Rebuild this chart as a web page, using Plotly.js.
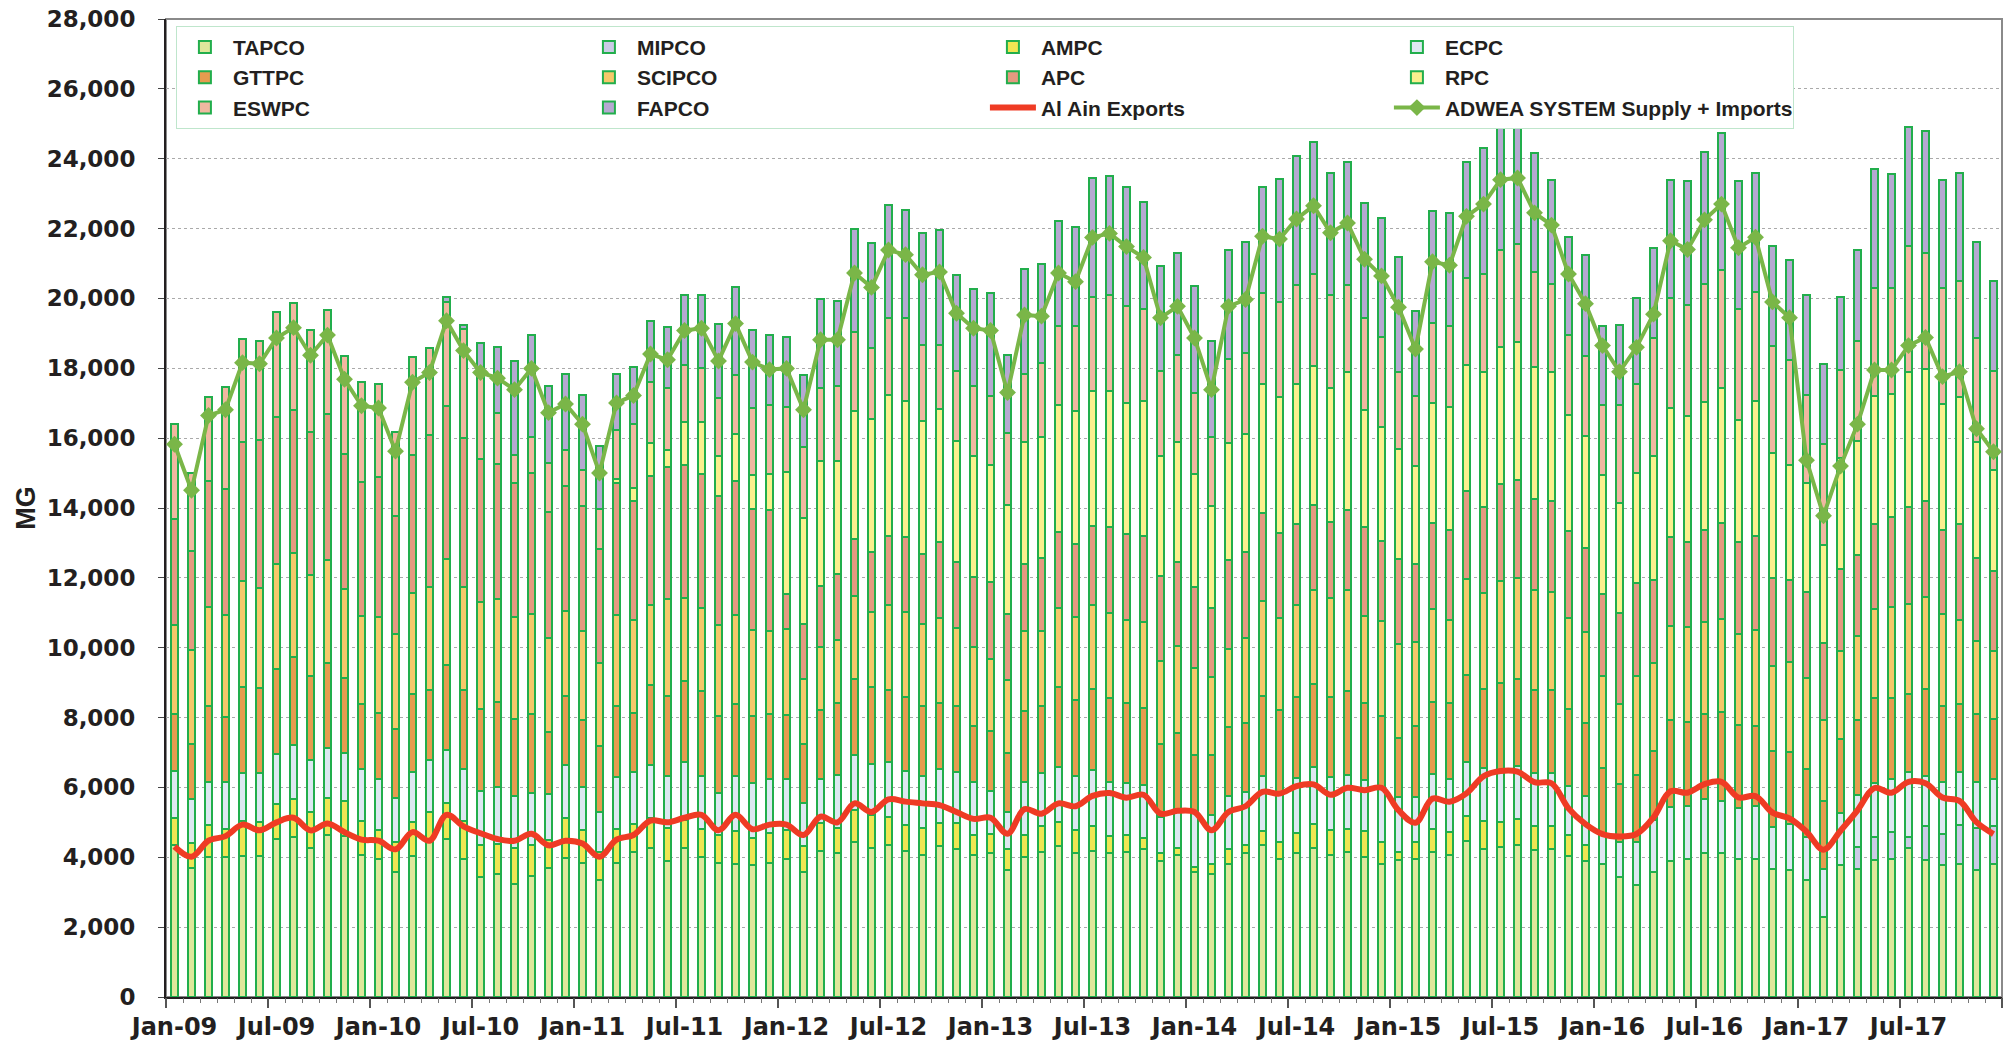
<!DOCTYPE html>
<html>
<head>
<meta charset="utf-8">
<script src="https://cdn.plot.ly/plotly-3.0.1.min.js"></script>
<style>html,body{margin:0;padding:0;background:#fff;}#chart{width:2009px;height:1044px;}</style>
</head>
<body>
<div id="chart"></div>
<script>
// ---- categories ----
const years = ['09','10','11','12','13','14','15','16','17'];
const monthNames = ['Jan','Feb','Mar','Apr','May','Jun','Jul','Aug','Sep','Oct','Nov','Dec'];
const months = [];
years.forEach(y => monthNames.forEach(m => months.push(m + '-' + y)));
const tickLabels = ['Jan-09','Jul-09','Jan-10','Jul-10','Jan-11','Jul-11','Jan-12','Jul-12','Jan-13','Jul-13','Jan-14','Jul-14','Jan-15','Jul-15','Jan-16','Jul-16','Jan-17','Jul-17'];

// ---- series values (MG), one row per year Jan..Dec ----
const TAPCO = [
 4340,3700,4010,4010,4050,4050,4520,4590,4280,4640,4610,4060,
 3950,3570,4050,4510,4510,3950,3440,3520,3240,3455,3685,3980,
 3850,3360,3850,4145,4260,3900,4280,4015,3850,3815,3770,3850,
 3950,3570,4180,4110,4440,4280,4360,4180,4060,4310,4230,4060,
 4110,3650,4015,4145,4310,4110,4180,4110,4145,4230,3900,4065,
 3570,3520,3815,4110,4345,3950,4110,4275,4065,4145,4015,3815,
 3910,3960,4160,4060,4470,4225,4300,4350,4200,4250,4050,3900,
 3800,3450,3200,3580,3890,3940,4120,4120,3945,3945,3670,3645,
 3345,2285,3780,3670,3915,3945,4255,3915,3780,3820,3645,3820];
const MIPCO = [
 0,0,0,0,0,0,0,0,0,0,0,0,
 0,0,0,0,0,0,0,0,0,0,0,0,
 0,0,0,0,0,0,0,0,0,0,0,0,
 0,0,0,0,0,0,0,0,0,0,0,0,
 0,0,0,0,0,0,0,0,0,0,0,0,
 0,0,0,0,0,0,0,0,0,0,0,0,
 0,0,0,0,0,0,0,0,0,0,0,0,
 0,0,0,0,0,0,0,0,0,0,0,0,
 0,0,0,625,680,790,340,995,885,1115,1185,1090];
const AMPC = [
 790,720,920,790,1000,950,1020,1070,1020,1070,990,990,
 820,870,950,790,1040,1100,905,870,1035,890,820,1150,
 920,790,955,820,870,940,775,790,790,940,790,840,
 820,740,790,725,905,940,805,740,775,660,740,575,
 560,575,625,740,705,660,710,495,495,330,215,215,
 165,295,410,245,410,495,575,690,705,660,740,625,
 230,490,640,670,720,815,700,750,700,650,600,450,
 0,0,0,0,0,0,0,0,0,0,0,0,
 0,0,0,0,0,0,0,0,0,0,0,0];
const ECPC = [
 1350,1235,1235,1365,1365,1415,1430,1560,1480,1430,1380,1480,
 1480,1265,1450,1480,1510,1465,1560,1630,1480,1495,1315,1520,
 1235,1150,1480,1480,1515,1480,1680,1515,1200,1565,1560,1560,
 1465,1235,1285,1530,1595,1445,1565,1560,1495,1565,1480,1515,
 1235,1070,1515,1515,1565,1545,1595,1545,1480,1515,1050,1020,
 1595,1400,1530,1515,1565,1380,1595,1610,1515,1565,1450,1515,
 1595,1280,1575,1515,1545,1525,1500,1500,1500,1500,1400,1400,
 850,1000,1250,1500,1550,1540,1560,1500,1470,1535,1200,1320,
 1250,1385,1495,1495,1525,1495,1835,1415,1495,1495,1335,1320];
const GTTPC = [
 1610,1580,2170,1840,2470,2420,2435,2520,2420,2435,2140,1860,
 1875,1975,2220,2010,2435,2270,2350,2435,2205,2255,1775,1975,
 1925,1890,2055,1680,2300,2300,2320,2435,2205,2060,1925,1840,
 1825,1695,1975,2055,2170,2205,2055,2105,2005,1890,1890,1610,
 1725,1695,2025,1940,2285,2190,2320,2400,2305,2190,2075,2255,
 1610,1725,1975,1975,2305,2400,2305,2385,2305,2385,2220,2090,
 1675,2020,2070,2175,2490,2265,2500,2500,2400,2400,2200,2100,
 1900,1650,1900,1970,2490,2380,2430,2545,2380,2270,2175,2055,
 1930,1945,2110,2135,2450,2340,2245,2490,2175,1970,1945,1740];
const SCIPCO = [
 2550,2700,2845,2930,3030,2880,2995,2960,2880,2930,2550,2530,
 2765,2715,2910,2960,3045,2960,3045,2930,2930,2880,2680,2435,
 2550,2385,2600,2680,2270,2765,2370,2385,2600,2545,2470,2385,
 2470,1875,1795,1810,2385,2155,2435,2435,2355,2420,2220,2270,
 2055,2090,2305,2140,2270,2385,2420,2450,2355,2465,2370,2485,
 2470,2220,2220,2435,2715,2630,2630,2700,2830,2910,2470,2730,
 2710,2410,2660,2365,2730,2730,2900,2900,2850,2800,2600,2600,
 2650,2300,2850,2510,2690,2720,2630,2650,2585,2760,2420,2570,
 2600,2310,2515,2405,2530,2585,2585,2650,2625,2405,2095,1930];
const APC = [
 3040,2845,3600,3620,3980,4230,4195,4110,4110,4180,3870,3830,
 4000,3370,3950,4330,4375,4245,4110,3865,3815,4030,3620,3570,
 3570,3255,3770,3405,3700,3785,3815,3835,3700,3835,3470,3455,
 1020,1565,1745,1890,1610,1725,1975,2140,2005,2185,1890,2005,
 2190,1890,1925,2090,2190,2090,2270,2450,2465,2470,2435,2400,
 2335,1975,2550,2450,2515,2420,2335,2435,2190,2270,2550,2285,
 2430,2240,2460,2580,2540,2460,2800,2800,2600,2600,2500,2400,
 2350,2600,2650,2380,2550,2450,2630,2760,2650,2695,2545,2355,
 2475,2215,2340,2325,2435,2585,2760,2745,2405,2735,2355,2285];
const RPC = [
 0,0,0,0,0,0,0,0,0,0,0,0,
 0,0,0,0,0,0,0,0,0,0,0,0,
 0,0,130,360,955,495,1215,1480,1150,1350,970,1035,
 3485,3045,3570,3240,3670,3785,4030,3900,3785,3815,3455,3455,
 3355,3110,3470,3470,3620,3785,3865,3900,3765,3865,3455,3440,
 3225,2910,3355,3390,3700,3900,4000,3980,3835,3950,3370,3255,
 3150,2800,3440,3535,3600,3875,3900,3950,3800,3700,3300,3200,
 3400,3150,3150,3540,3700,3600,3670,3875,3495,3860,3565,3290,
 3130,2815,3195,3265,3685,3510,3875,3780,3605,3630,3330,2910];
const ESWPC = [
 2715,2220,2400,2910,2930,2850,3010,3060,2900,2990,2810,2850,
 2650,2420,2780,2500,2990,3125,2385,1480,825,1020,1400,1035,
 1035,1150,1400,1825,1730,1760,1645,1565,1645,1695,1910,1975,
 1860,2025,2105,2140,2255,2040,2220,2385,2190,1825,2025,2005,
 1990,2075,1960,2120,2255,2450,2680,2745,2765,2630,2420,2500,
 2335,1975,2400,2305,2600,2715,2845,2630,2665,2500,2630,2585,
 2200,2000,2300,2300,2500,2800,2800,2800,2700,2500,2300,2300,
 2000,2800,2550,3400,3130,3170,3360,3350,3175,3130,3075,2990,
 2515,2885,2515,2855,3080,3055,3600,3310,3330,3325,2990,2830];
const FAPCO = [
 0,0,0,0,0,0,0,0,0,0,0,0,
 0,0,0,0,150,115,940,1890,2680,2930,2205,2170,
 2140,1795,1610,1645,1745,1745,2005,2090,2140,2515,2220,2005,
 2005,2055,2535,2420,2960,3010,3225,3095,3190,3275,2730,2765,
 2930,2235,2995,2815,3010,2830,3405,3405,3405,3075,3010,2910,
 3045,2765,3125,3190,3045,3535,3685,3765,3485,3535,3275,3390,
 3300,2450,3200,3250,3300,3600,3800,3700,3400,3000,2800,2900,
 2250,2300,2450,2570,3400,3550,3800,3950,3650,3400,2855,2875,
 2855,2285,2100,2620,3400,3250,3400,3500,3100,3100,2725,2575];
const AlAinExports = [
 4310,4014,4474,4606,4935,4771,5001,5132,4771,4968,4721,4507,
 4474,4228,4721,4474,5215,4886,4688,4524,4474,4672,4343,4474,
 4392,4014,4507,4639,5050,5001,5132,5215,4771,5215,4803,4935,
 4935,4639,5165,5001,5544,5297,5659,5593,5544,5494,5297,5100,
 5132,4672,5379,5248,5544,5461,5758,5840,5708,5790,5248,5330,
 5297,4771,5297,5461,5873,5823,6037,6087,5790,5988,5922,5988,
 5350,4990,5680,5590,5830,6320,6470,6450,6150,6120,5400,4950,
 4665,4597,4665,5141,5889,5848,6093,6161,5712,5753,5277,5114,
 4733,4216,4760,5345,5984,5848,6161,6120,5712,5617,5005,4665];
const ADWEA = [
 15825,14509,16647,16812,18161,18128,18868,19164,18375,18950,17684,16927,
 16861,15628,17602,17881,19362,18506,17881,17717,17388,17997,16730,16976,
 16401,15002,17009,17223,18408,18243,19082,19148,18210,19279,18177,17963,
 17997,16812,18819,18819,20727,20316,21385,21253,20678,20760,19576,19148,
 19082,17305,19526,19493,20727,20480,21747,21862,21484,21171,19444,19773,
 18868,17388,19773,19970,21780,21698,22273,22652,21879,22158,21122,20645,
 19750,18550,21050,20950,22350,22700,23400,23450,22450,22100,20700,19850,
 18650,17900,18600,19550,21650,21400,22250,22700,21450,21750,19900,19450,
 15370,13780,15200,16400,17950,17950,18650,18880,17760,17900,16270,15610];

// ---- build traces ----
const x = months.map((m, i) => i);
const tickVals = tickLabels.map(l => months.indexOf(l));
const boundaryVals = tickVals.map(v => v - 0.5).concat([months.length - 0.5]);

const barSeries = [
  {name:'TAPCO',  y:TAPCO,  color:'#dfe79b'},
  {name:'MIPCO',  y:MIPCO,  color:'#cbcbe6'},
  {name:'AMPC',   y:AMPC,   color:'#efe653'},
  {name:'ECPC',   y:ECPC,   color:'#dde8f1'},
  {name:'GTTPC',  y:GTTPC,  color:'#e69c4f'},
  {name:'SCIPCO', y:SCIPCO, color:'#f5c86a'},
  {name:'APC',    y:APC,    color:'#e49a80'},
  {name:'RPC',    y:RPC,    color:'#faef8e'},
  {name:'ESWPC',  y:ESWPC,  color:'#f0b8a0'},
  {name:'FAPCO',  y:FAPCO,  color:'#b5a9d1'}
];
const traces = barSeries.map(s => ({
  type:'bar', name:s.name, x:x, y:s.y, width:0.44,
  marker:{color:s.color, line:{color:'#22ae4c', width:2}},
  hoverinfo:'skip'
}));
traces.push({
  type:'scatter', mode:'lines', name:'Al Ain Exports', x:x, y:AlAinExports,
  line:{color:'#ef3b24', width:6, shape:'spline', smoothing:1}, hoverinfo:'skip'
});
traces.push({
  type:'scatter', mode:'lines+markers', name:'ADWEA SYSTEM Supply + Imports', x:x, y:ADWEA,
  line:{color:'#7ab648', width:4}, marker:{symbol:'diamond', size:13, color:'#7ab648'}, hoverinfo:'skip'
});
// invisible helper so the tick-only overlay axis is drawn
traces.push({type:'scatter', mode:'markers', x:[x[0]], y:[0], xaxis:'x2', yaxis:'y',
  marker:{opacity:0}, showlegend:false, hoverinfo:'skip'});

const yTickFont = {family:'DejaVu Sans, Arial', size:23, color:'#231f20', weight:'bold'};
const xTickFont = {family:'DejaVu Sans, Arial', size:24, color:'#231f20', weight:'bold'};

const layout = {
  width:2009, height:1044,
  margin:{l:166, r:7, t:19, b:47, pad:0},
  paper_bgcolor:'#ffffff', plot_bgcolor:'#ffffff',
  barmode:'stack',
  showlegend:true,
  legend:{
    orientation:'h', x:0.0054, y:0.993, xanchor:'left', yanchor:'top',
    entrywidth:343, entrywidthmode:'pixels', itemwidth:46,
    bgcolor:'#ffffff', bordercolor:'#bfe6cc', borderwidth:1,
    font:{family:'Liberation Sans, Arial', size:21, color:'#231f20', weight:'bold'},
    traceorder:'normal'
  },
  xaxis:{
    range:[-0.5, months.length - 0.5], tickmode:'array', tickvals:tickVals, ticktext:tickLabels,
    ticks:'', showgrid:false, zeroline:false, showline:true, linecolor:'#231f20', linewidth:2,
    tickfont:xTickFont, ticklabelstandoff:7, fixedrange:true
  },
  xaxis2:{
    overlaying:'x', anchor:'y', side:'bottom', range:[-0.5, months.length - 0.5],
    tickmode:'array', tickvals:boundaryVals, ticks:'outside', ticklen:10, tickwidth:1.5, tickcolor:'#555555',
    showticklabels:false, showgrid:false, showline:false, zeroline:false,
    minor:{tickmode:'linear', tick0:-0.5, dtick:1, ticks:'outside', ticklen:5, tickwidth:1, tickcolor:'#777777'}
  },
  yaxis:{
    range:[0, 28000], dtick:2000, tickformat:',d',
    showgrid:true, gridcolor:'#aaaaaa', griddash:'dot', gridwidth:1, zeroline:false,
    showline:true, linecolor:'#231f20', linewidth:2,
    ticks:'outside', ticklen:6, tickcolor:'#444444',
    tickfont:yTickFont, ticklabelstandoff:18,
    title:{text:'MG', font:{family:'Liberation Sans, Arial', size:27, color:'#231f20', weight:'bold'}, standoff:3}
  },
  shapes:[{type:'rect', xref:'paper', yref:'paper', x0:0, x1:1, y0:0, y1:1,
           line:{color:'#8a8a8a', width:2}, layer:'below'}]
};

Plotly.newPlot('chart', traces, layout, {displayModeBar:false, staticPlot:true});
</script>
</body>
</html>
